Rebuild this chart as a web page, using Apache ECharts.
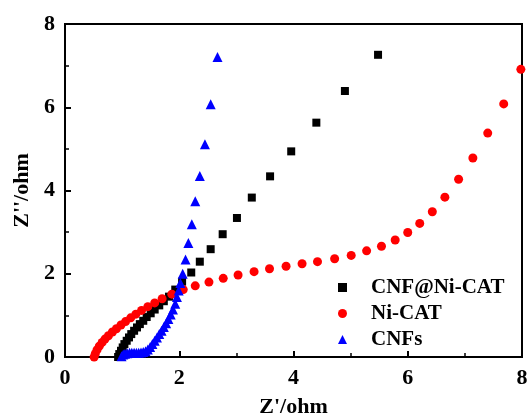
<!DOCTYPE html>
<html>
<head>
<meta charset="utf-8">
<script src="https://cdn.jsdelivr.net/npm/echarts@6/dist/echarts.min.js"></script>
<style>
  html, body { margin: 0; padding: 0; background: #fff; }
  #main { width: 529px; height: 420px; }
</style>
</head>
<body>
<div id="main"></div>
<script>
// [Z', Z''] pairs
const cnfNiCat = [
  [0.93, 0.0], [0.95, 0.07], [0.98, 0.15], [1.01, 0.23], [1.04, 0.31], [1.08, 0.39],
  [1.12, 0.47], [1.16, 0.55], [1.21, 0.63], [1.26, 0.71], [1.31, 0.79], [1.37, 0.87],
  [1.43, 0.96], [1.50, 1.05], [1.57, 1.14], [1.65, 1.24], [1.73, 1.34], [1.82, 1.45],
  [1.93, 1.62], [2.05, 1.81], [2.21, 2.03], [2.36, 2.29], [2.55, 2.59], [2.76, 2.95],
  [3.01, 3.34], [3.27, 3.83], [3.59, 4.34], [3.96, 4.94], [4.40, 5.63], [4.90, 6.39],
  [5.48, 7.26]
];
const niCat = [
  [0.51, 0.0], [0.53, 0.08], [0.56, 0.17], [0.60, 0.26], [0.65, 0.35], [0.70, 0.43],
  [0.76, 0.51], [0.83, 0.60], [0.90, 0.68], [0.98, 0.77], [1.06, 0.85], [1.15, 0.94],
  [1.24, 1.03], [1.34, 1.12], [1.45, 1.21], [1.57, 1.30], [1.70, 1.40], [1.87, 1.51],
  [2.07, 1.62], [2.28, 1.71], [2.52, 1.80], [2.77, 1.89], [3.03, 1.97], [3.31, 2.05],
  [3.58, 2.12], [3.87, 2.18], [4.15, 2.24], [4.42, 2.29], [4.72, 2.36], [5.01, 2.44],
  [5.28, 2.55], [5.54, 2.66], [5.78, 2.81], [6.00, 2.99], [6.21, 3.21], [6.43, 3.49],
  [6.65, 3.84], [6.89, 4.27], [7.14, 4.78], [7.40, 5.38], [7.68, 6.08], [7.98, 6.91]
];
const cnfs = [
  [0.99, 0.02], [1.02, 0.06], [1.05, 0.08], [1.09, 0.09], [1.13, 0.10], [1.17, 0.10],
  [1.21, 0.10], [1.25, 0.10], [1.29, 0.10], [1.33, 0.11], [1.37, 0.12], [1.41, 0.14],
  [1.45, 0.18], [1.49, 0.24], [1.53, 0.31], [1.57, 0.39], [1.61, 0.47], [1.65, 0.55],
  [1.69, 0.63], [1.73, 0.72], [1.77, 0.81], [1.81, 0.91], [1.85, 1.02], [1.89, 1.14],
  [1.93, 1.28], [1.96, 1.44], [1.99, 1.60], [2.02, 1.78], [2.06, 2.00], [2.11, 2.34],
  [2.16, 2.74], [2.22, 3.19], [2.28, 3.74], [2.36, 4.35], [2.45, 5.11], [2.55, 6.07],
  [2.67, 7.21]
];
const seriesNames = ['CNF@Ni-CAT', 'Ni-CAT', 'CNFs'];

const font = 'Liberation Serif';

const chart = echarts.init(document.getElementById('main'));

const axisCommon = {
  min: 0,
  max: 8,
  interval: 2,
  axisLine: { onZero: false, lineStyle: { color: '#000', width: 2 } },
  axisTick: { inside: true, length: 6, lineStyle: { color: '#000', width: 2 } },
  minorTick: { show: true, splitNumber: 2, length: 4, lineStyle: { color: '#000', width: 1.5 } },
  splitLine: { show: false },
  axisLabel: { color: '#000', fontFamily: font, fontWeight: 'bold', fontSize: 22, margin: 10 },
  nameLocation: 'middle',
  nameTextStyle: { color: '#000', fontFamily: font, fontWeight: 'bold', fontSize: 22 }
};

chart.setOption({
  animation: false,
  backgroundColor: '#fff',
  grid: {
    left: 65, right: 7, top: 24, bottom: 63,
    show: true, borderColor: '#000', borderWidth: 2,
    outerBoundsMode: 'none'
  },
  xAxis: Object.assign({}, axisCommon, {
    type: 'value',
    name: "Z'/ohm",
    nameGap: 39
  }),
  yAxis: Object.assign({}, axisCommon, {
    type: 'value',
    name: "Z''/ohm",
    nameGap: 32
  }),
  legend: {
    orient: 'vertical',
    left: 333,
    top: 272,
    itemWidth: 9,
    itemHeight: 9,
    itemGap: 5,
    textStyle: { color: '#000', fontFamily: font, fontWeight: 'bold', fontSize: 21, padding: [0, 0, 0, 19] },
    data: seriesNames
  },
  series: [
    {
      name: seriesNames[0], type: 'scatter', data: cnfNiCat,
      symbol: 'rect', symbolSize: 8, itemStyle: { color: '#000', opacity: 1 }
    },
    {
      name: seriesNames[1], type: 'scatter', data: niCat,
      symbol: 'circle', symbolSize: 9, itemStyle: { color: '#ff0000', opacity: 1 }
    },
    {
      name: seriesNames[2], type: 'scatter', data: cnfs,
      symbol: 'triangle', symbolSize: 10, itemStyle: { color: '#0000ff', opacity: 1 }
    }
  ]
});
</script>
</body>
</html>
